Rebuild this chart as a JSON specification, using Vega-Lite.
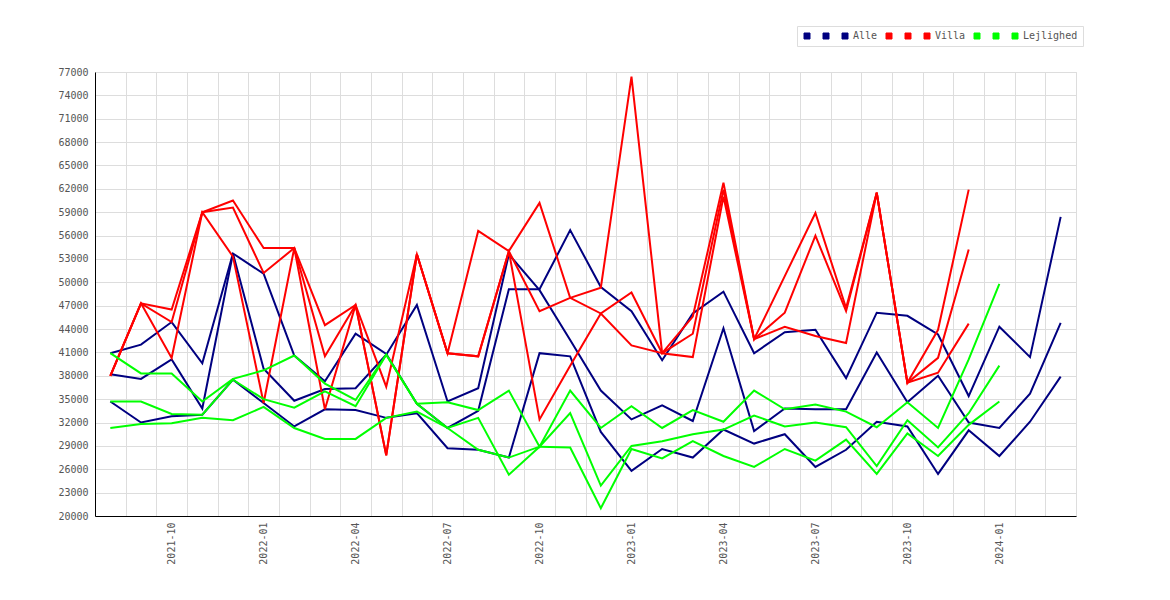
{
  "$schema": "https://vega.github.io/schema/vega-lite/v6.json",
  "autosize": {"type": "none"},
  "width": 981,
  "height": 444,
  "padding": {"left": 95, "top": 72, "right": 94, "bottom": 84},
  "background": "white",
  "config": {
    "view": {"stroke": "#dddddd", "strokeWidth": 1},
    "axis": {
      "labelFont": "DejaVu Sans Mono",
      "labelFontSize": 10,
      "labelColor": "#555555",
      "domainColor": "#000000",
      "domainWidth": 1,
      "gridColor": "#dddddd",
      "gridWidth": 1,
      "ticks": false,
      "title": null
    }
  },
  "data": {
    "values": [
      {"m":"2021-08","s":"Alle_a","v":40900},{"m":"2021-09","s":"Alle_a","v":42000},{"m":"2021-10","s":"Alle_a","v":44900},{"m":"2021-11","s":"Alle_a","v":39600},{"m":"2021-12","s":"Alle_a","v":53700},{"m":"2022-01","s":"Alle_a","v":51100},{"m":"2022-02","s":"Alle_a","v":40600},{"m":"2022-03","s":"Alle_a","v":37300},{"m":"2022-04","s":"Alle_a","v":43400},{"m":"2022-05","s":"Alle_a","v":40800},{"m":"2022-06","s":"Alle_a","v":34400},{"m":"2022-07","s":"Alle_a","v":31300},{"m":"2022-08","s":"Alle_a","v":33500},{"m":"2022-09","s":"Alle_a","v":49100},{"m":"2022-10","s":"Alle_a","v":49100},{"m":"2022-11","s":"Alle_a","v":56700},{"m":"2022-12","s":"Alle_a","v":49400},{"m":"2023-01","s":"Alle_a","v":46300},{"m":"2023-02","s":"Alle_a","v":40000},{"m":"2023-03","s":"Alle_a","v":46000},{"m":"2023-04","s":"Alle_a","v":48800},{"m":"2023-05","s":"Alle_a","v":40900},{"m":"2023-06","s":"Alle_a","v":43600},{"m":"2023-07","s":"Alle_a","v":43900},{"m":"2023-08","s":"Alle_a","v":37700},{"m":"2023-09","s":"Alle_a","v":46100},{"m":"2023-10","s":"Alle_a","v":45700},{"m":"2023-11","s":"Alle_a","v":43300},{"m":"2023-12","s":"Alle_a","v":35400},{"m":"2024-01","s":"Alle_a","v":44300},{"m":"2024-02","s":"Alle_a","v":40400},{"m":"2024-03","s":"Alle_a","v":58400},
      {"m":"2021-08","s":"Alle_b","v":38200},{"m":"2021-09","s":"Alle_b","v":37600},{"m":"2021-10","s":"Alle_b","v":40100},{"m":"2021-11","s":"Alle_b","v":33800},{"m":"2021-12","s":"Alle_b","v":53700},{"m":"2022-01","s":"Alle_b","v":38900},{"m":"2022-02","s":"Alle_b","v":34800},{"m":"2022-03","s":"Alle_b","v":36300},{"m":"2022-04","s":"Alle_b","v":36400},{"m":"2022-05","s":"Alle_b","v":40700},{"m":"2022-06","s":"Alle_b","v":47100},{"m":"2022-07","s":"Alle_b","v":34700},{"m":"2022-08","s":"Alle_b","v":36400},{"m":"2022-09","s":"Alle_b","v":53600},{"m":"2022-10","s":"Alle_b","v":49000},{"m":"2022-11","s":"Alle_b","v":42600},{"m":"2022-12","s":"Alle_b","v":36100},{"m":"2023-01","s":"Alle_b","v":32400},{"m":"2023-02","s":"Alle_b","v":34200},{"m":"2023-03","s":"Alle_b","v":32200},{"m":"2023-04","s":"Alle_b","v":44100},{"m":"2023-05","s":"Alle_b","v":30900},{"m":"2023-06","s":"Alle_b","v":33800},{"m":"2023-07","s":"Alle_b","v":33700},{"m":"2023-08","s":"Alle_b","v":33700},{"m":"2023-09","s":"Alle_b","v":41000},{"m":"2023-10","s":"Alle_b","v":34600},{"m":"2023-11","s":"Alle_b","v":38000},{"m":"2023-12","s":"Alle_b","v":32000},{"m":"2024-01","s":"Alle_b","v":31300},{"m":"2024-02","s":"Alle_b","v":35700},{"m":"2024-03","s":"Alle_b","v":44800},
      {"m":"2021-08","s":"Alle","v":34700},{"m":"2021-09","s":"Alle","v":32000},{"m":"2021-10","s":"Alle","v":32800},{"m":"2021-11","s":"Alle","v":33000},{"m":"2021-12","s":"Alle","v":37500},{"m":"2022-01","s":"Alle","v":34500},{"m":"2022-02","s":"Alle","v":31500},{"m":"2022-03","s":"Alle","v":33700},{"m":"2022-04","s":"Alle","v":33600},{"m":"2022-05","s":"Alle","v":32600},{"m":"2022-06","s":"Alle","v":33200},{"m":"2022-07","s":"Alle","v":28700},{"m":"2022-08","s":"Alle","v":28500},{"m":"2022-09","s":"Alle","v":27500},{"m":"2022-10","s":"Alle","v":40900},{"m":"2022-11","s":"Alle","v":40500},{"m":"2022-12","s":"Alle","v":30800},{"m":"2023-01","s":"Alle","v":25800},{"m":"2023-02","s":"Alle","v":28600},{"m":"2023-03","s":"Alle","v":27500},{"m":"2023-04","s":"Alle","v":31100},{"m":"2023-05","s":"Alle","v":29300},{"m":"2023-06","s":"Alle","v":30500},{"m":"2023-07","s":"Alle","v":26300},{"m":"2023-08","s":"Alle","v":28500},{"m":"2023-09","s":"Alle","v":32100},{"m":"2023-10","s":"Alle","v":31500},{"m":"2023-11","s":"Alle","v":25400},{"m":"2023-12","s":"Alle","v":31000},{"m":"2024-01","s":"Alle","v":27700},{"m":"2024-02","s":"Alle","v":32100},{"m":"2024-03","s":"Alle","v":37900},
      {"m":"2021-08","s":"Villa_a","v":38000},{"m":"2021-09","s":"Villa_a","v":47300},{"m":"2021-10","s":"Villa_a","v":46500},{"m":"2021-11","s":"Villa_a","v":59000},{"m":"2021-12","s":"Villa_a","v":60500},{"m":"2022-01","s":"Villa_a","v":54400},{"m":"2022-02","s":"Villa_a","v":54400},{"m":"2022-03","s":"Villa_a","v":44500},{"m":"2022-04","s":"Villa_a","v":47100},{"m":"2022-05","s":"Villa_a","v":36600},{"m":"2022-06","s":"Villa_a","v":53600},{"m":"2022-07","s":"Villa_a","v":40900},{"m":"2022-08","s":"Villa_a","v":56600},{"m":"2022-09","s":"Villa_a","v":54000},{"m":"2022-10","s":"Villa_a","v":60200},{"m":"2022-11","s":"Villa_a","v":48000},{"m":"2022-12","s":"Villa_a","v":46000},{"m":"2023-01","s":"Villa_a","v":41900},{"m":"2023-02","s":"Villa_a","v":40900},{"m":"2023-03","s":"Villa_a","v":45600},{"m":"2023-04","s":"Villa_a","v":62800},{"m":"2023-05","s":"Villa_a","v":42700},{"m":"2023-06","s":"Villa_a","v":50800},{"m":"2023-07","s":"Villa_a","v":58900},{"m":"2023-08","s":"Villa_a","v":46700},{"m":"2023-09","s":"Villa_a","v":61500},{"m":"2023-10","s":"Villa_a","v":37100},{"m":"2023-11","s":"Villa_a","v":43900},{"m":"2023-12","s":"Villa_a","v":61900},
      {"m":"2021-08","s":"Villa_b","v":38000},{"m":"2021-09","s":"Villa_b","v":47300},{"m":"2021-10","s":"Villa_b","v":44900},{"m":"2021-11","s":"Villa_b","v":59000},{"m":"2021-12","s":"Villa_b","v":59600},{"m":"2022-01","s":"Villa_b","v":51200},{"m":"2022-02","s":"Villa_b","v":54400},{"m":"2022-03","s":"Villa_b","v":40500},{"m":"2022-04","s":"Villa_b","v":47100},{"m":"2022-05","s":"Villa_b","v":27800},{"m":"2022-06","s":"Villa_b","v":53600},{"m":"2022-07","s":"Villa_b","v":40900},{"m":"2022-08","s":"Villa_b","v":40500},{"m":"2022-09","s":"Villa_b","v":54000},{"m":"2022-10","s":"Villa_b","v":46300},{"m":"2022-11","s":"Villa_b","v":48000},{"m":"2022-12","s":"Villa_b","v":49300},{"m":"2023-01","s":"Villa_b","v":76400},{"m":"2023-02","s":"Villa_b","v":40900},{"m":"2023-03","s":"Villa_b","v":43400},{"m":"2023-04","s":"Villa_b","v":61900},{"m":"2023-05","s":"Villa_b","v":42700},{"m":"2023-06","s":"Villa_b","v":46100},{"m":"2023-07","s":"Villa_b","v":56000},{"m":"2023-08","s":"Villa_b","v":46300},{"m":"2023-09","s":"Villa_b","v":61500},{"m":"2023-10","s":"Villa_b","v":37100},{"m":"2023-11","s":"Villa_b","v":40300},{"m":"2023-12","s":"Villa_b","v":54200},
      {"m":"2021-08","s":"Villa","v":38000},{"m":"2021-09","s":"Villa","v":47300},{"m":"2021-10","s":"Villa","v":40300},{"m":"2021-11","s":"Villa","v":59000},{"m":"2021-12","s":"Villa","v":53300},{"m":"2022-01","s":"Villa","v":34500},{"m":"2022-02","s":"Villa","v":54400},{"m":"2022-03","s":"Villa","v":33700},{"m":"2022-04","s":"Villa","v":47100},{"m":"2022-05","s":"Villa","v":27800},{"m":"2022-06","s":"Villa","v":53600},{"m":"2022-07","s":"Villa","v":40900},{"m":"2022-08","s":"Villa","v":40500},{"m":"2022-09","s":"Villa","v":54000},{"m":"2022-10","s":"Villa","v":32400},{"m":"2022-11","s":"Villa","v":39300},{"m":"2022-12","s":"Villa","v":46000},{"m":"2023-01","s":"Villa","v":48700},{"m":"2023-02","s":"Villa","v":40900},{"m":"2023-03","s":"Villa","v":40400},{"m":"2023-04","s":"Villa","v":61000},{"m":"2023-05","s":"Villa","v":42700},{"m":"2023-06","s":"Villa","v":44300},{"m":"2023-07","s":"Villa","v":43100},{"m":"2023-08","s":"Villa","v":42200},{"m":"2023-09","s":"Villa","v":61500},{"m":"2023-10","s":"Villa","v":37100},{"m":"2023-11","s":"Villa","v":38400},{"m":"2023-12","s":"Villa","v":44700},
      {"m":"2021-08","s":"Lejlighed_a","v":40900},{"m":"2021-09","s":"Lejlighed_a","v":38300},{"m":"2021-10","s":"Lejlighed_a","v":38300},{"m":"2021-11","s":"Lejlighed_a","v":34700},{"m":"2021-12","s":"Lejlighed_a","v":37600},{"m":"2022-01","s":"Lejlighed_a","v":38700},{"m":"2022-02","s":"Lejlighed_a","v":40600},{"m":"2022-03","s":"Lejlighed_a","v":37000},{"m":"2022-04","s":"Lejlighed_a","v":34900},{"m":"2022-05","s":"Lejlighed_a","v":40700},{"m":"2022-06","s":"Lejlighed_a","v":34400},{"m":"2022-07","s":"Lejlighed_a","v":34600},{"m":"2022-08","s":"Lejlighed_a","v":33600},{"m":"2022-09","s":"Lejlighed_a","v":36100},{"m":"2022-10","s":"Lejlighed_a","v":28900},{"m":"2022-11","s":"Lejlighed_a","v":36100},{"m":"2022-12","s":"Lejlighed_a","v":31300},{"m":"2023-01","s":"Lejlighed_a","v":34100},{"m":"2023-02","s":"Lejlighed_a","v":31300},{"m":"2023-03","s":"Lejlighed_a","v":33600},{"m":"2023-04","s":"Lejlighed_a","v":32100},{"m":"2023-05","s":"Lejlighed_a","v":36100},{"m":"2023-06","s":"Lejlighed_a","v":33700},{"m":"2023-07","s":"Lejlighed_a","v":34300},{"m":"2023-08","s":"Lejlighed_a","v":33400},{"m":"2023-09","s":"Lejlighed_a","v":31400},{"m":"2023-10","s":"Lejlighed_a","v":34600},{"m":"2023-11","s":"Lejlighed_a","v":31300},{"m":"2023-12","s":"Lejlighed_a","v":40100},{"m":"2024-01","s":"Lejlighed_a","v":49800},
      {"m":"2021-08","s":"Lejlighed_b","v":34700},{"m":"2021-09","s":"Lejlighed_b","v":34700},{"m":"2021-10","s":"Lejlighed_b","v":33100},{"m":"2021-11","s":"Lejlighed_b","v":33000},{"m":"2021-12","s":"Lejlighed_b","v":37500},{"m":"2022-01","s":"Lejlighed_b","v":35000},{"m":"2022-02","s":"Lejlighed_b","v":33900},{"m":"2022-03","s":"Lejlighed_b","v":36000},{"m":"2022-04","s":"Lejlighed_b","v":34100},{"m":"2022-05","s":"Lejlighed_b","v":40700},{"m":"2022-06","s":"Lejlighed_b","v":34400},{"m":"2022-07","s":"Lejlighed_b","v":31300},{"m":"2022-08","s":"Lejlighed_b","v":32600},{"m":"2022-09","s":"Lejlighed_b","v":25300},{"m":"2022-10","s":"Lejlighed_b","v":28900},{"m":"2022-11","s":"Lejlighed_b","v":33200},{"m":"2022-12","s":"Lejlighed_b","v":23900},{"m":"2023-01","s":"Lejlighed_b","v":29000},{"m":"2023-02","s":"Lejlighed_b","v":29600},{"m":"2023-03","s":"Lejlighed_b","v":30500},{"m":"2023-04","s":"Lejlighed_b","v":31100},{"m":"2023-05","s":"Lejlighed_b","v":32900},{"m":"2023-06","s":"Lejlighed_b","v":31500},{"m":"2023-07","s":"Lejlighed_b","v":32000},{"m":"2023-08","s":"Lejlighed_b","v":31400},{"m":"2023-09","s":"Lejlighed_b","v":26400},{"m":"2023-10","s":"Lejlighed_b","v":32300},{"m":"2023-11","s":"Lejlighed_b","v":28800},{"m":"2023-12","s":"Lejlighed_b","v":33200},{"m":"2024-01","s":"Lejlighed_b","v":39300},
      {"m":"2021-08","s":"Lejlighed","v":31300},{"m":"2021-09","s":"Lejlighed","v":31800},{"m":"2021-10","s":"Lejlighed","v":31900},{"m":"2021-11","s":"Lejlighed","v":32600},{"m":"2021-12","s":"Lejlighed","v":32300},{"m":"2022-01","s":"Lejlighed","v":34000},{"m":"2022-02","s":"Lejlighed","v":31300},{"m":"2022-03","s":"Lejlighed","v":29900},{"m":"2022-04","s":"Lejlighed","v":29900},{"m":"2022-05","s":"Lejlighed","v":32600},{"m":"2022-06","s":"Lejlighed","v":33400},{"m":"2022-07","s":"Lejlighed","v":31300},{"m":"2022-08","s":"Lejlighed","v":28500},{"m":"2022-09","s":"Lejlighed","v":27500},{"m":"2022-10","s":"Lejlighed","v":28900},{"m":"2022-11","s":"Lejlighed","v":28800},{"m":"2022-12","s":"Lejlighed","v":21000},{"m":"2023-01","s":"Lejlighed","v":28600},{"m":"2023-02","s":"Lejlighed","v":27400},{"m":"2023-03","s":"Lejlighed","v":29600},{"m":"2023-04","s":"Lejlighed","v":27700},{"m":"2023-05","s":"Lejlighed","v":26300},{"m":"2023-06","s":"Lejlighed","v":28600},{"m":"2023-07","s":"Lejlighed","v":27100},{"m":"2023-08","s":"Lejlighed","v":29800},{"m":"2023-09","s":"Lejlighed","v":25400},{"m":"2023-10","s":"Lejlighed","v":30600},{"m":"2023-11","s":"Lejlighed","v":27700},{"m":"2023-12","s":"Lejlighed","v":31700},{"m":"2024-01","s":"Lejlighed","v":34700}
    ]
  },
  "mark": {"type": "line", "strokeWidth": 2, "interpolate": "linear"},
  "encoding": {
    "x": {
      "field": "m",
      "type": "ordinal",
      "bandPosition": 0.5,
      "scale": {"type": "band", "paddingInner": 0, "paddingOuter": 0},
      "axis": {
        "tickBand": "extent",
        "grid": true,
        "labelAngle": -90,
        "labelPadding": 6,
        "labelOverlap": false,
        "labelExpr": "(substring(datum.value, 5, 7) == '01' || substring(datum.value, 5, 7) == '04' || substring(datum.value, 5, 7) == '07' || substring(datum.value, 5, 7) == '10') ? datum.value : ''"
      }
    },
    "y": {
      "field": "v",
      "type": "quantitative",
      "scale": {"domain": [20000, 77000], "nice": false, "zero": false},
      "axis": {
        "values": [20000, 23000, 26000, 29000, 32000, 35000, 38000, 41000, 44000, 47000, 50000, 53000, 56000, 59000, 62000, 65000, 68000, 71000, 74000, 77000],
        "format": "d",
        "labelPadding": 7
      }
    },
    "color": {
      "field": "s",
      "type": "nominal",
      "scale": {
        "domain": ["Alle_a", "Alle_b", "Alle", "Villa_a", "Villa_b", "Villa", "Lejlighed_a", "Lejlighed_b", "Lejlighed"],
        "range": ["#000080", "#000080", "#000080", "#ff0000", "#ff0000", "#ff0000", "#00ff00", "#00ff00", "#00ff00"]
      },
      "legend": {
        "title": null,
        "orient": "none",
        "legendX": 702,
        "legendY": -46,
        "direction": "horizontal",
        "columns": 9,
        "gridAlign": "none",
        "columnPadding": 6,
        "padding": 5,
        "strokeColor": "#dddddd",
        "fillColor": "white",
        "symbolType": "square",
        "symbolSize": 36,
        "symbolStrokeWidth": 1,
        "labelOffset": 3,
        "labelFont": "DejaVu Sans Mono",
        "labelFontSize": 10,
        "labelColor": "#555555",
        "labelExpr": "(datum.label == 'Alle' || datum.label == 'Villa' || datum.label == 'Lejlighed') ? datum.label : ' '",
        "encode": {
          "symbols": {
            "update": {
              "fill": {"scale": "color", "field": "value"},
              "stroke": {"value": "#666666"},
              "strokeWidth": {"value": 1},
              "opacity": {"value": 1}
            }
          }
        }
      }
    }
  }
}
